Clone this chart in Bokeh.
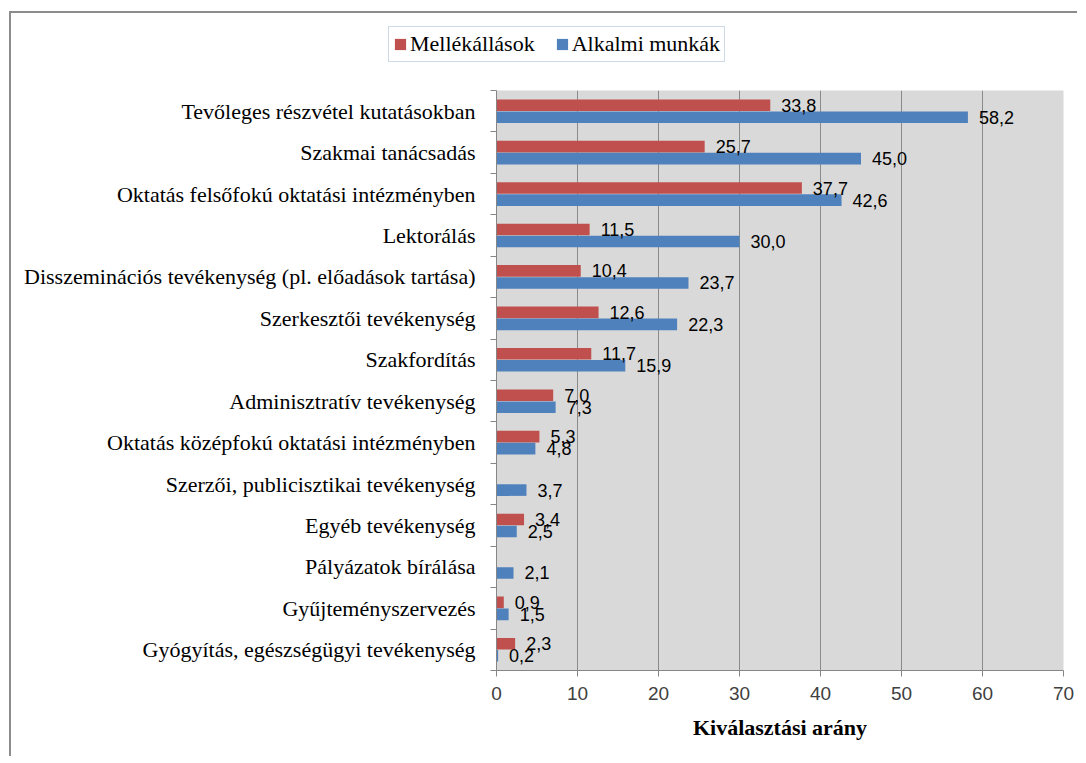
from bokeh.plotting import figure
from bokeh.layouts import column
from bokeh.models import ColumnDataSource, Range1d, FixedTicker, Legend, LegendItem, LabelSet
from bokeh.core.properties import value
from bokeh.embed import file_html
from bokeh.resources import INLINE

categories = [
    "Tevőleges részvétel kutatásokban",
    "Szakmai tanácsadás",
    "Oktatás felsőfokú oktatási intézményben",
    "Lektorálás",
    "Disszeminációs tevékenység (pl. előadások tartása)",
    "Szerkesztői tevékenység",
    "Szakfordítás",
    "Adminisztratív tevékenység",
    "Oktatás középfokú oktatási intézményben",
    "Szerzői, publicisztikai tevékenység",
    "Egyéb tevékenység",
    "Pályázatok bírálása",
    "Gyűjteményszervezés",
    "Gyógyítás, egészségügyi tevékenység",
]
mellekallasok = [33.8, 25.7, 37.7, 11.5, 10.4, 12.6, 11.7, 7.0, 5.3, None, 3.4, None, 0.9, 2.3]
alkalmi_munkak = [58.2, 45.0, 42.6, 30.0, 23.7, 22.3, 15.9, 7.3, 4.8, 3.7, 2.5, 2.1, 1.5, 0.2]
x_ticks = [0, 10, 20, 30, 40, 50, 60, 70]
series_names = ["Mellékállások", "Alkalmi munkák"]
x_title = "Kiválasztási arány"

RED = "#C0504D"
BLUE = "#4F81BD"
SERIF = "Liberation Serif"
SANS = "Liberation Sans"

n = len(categories)
centers = [i + 0.5 for i in range(n)]
dodge = 0.145
bar_h = 0.28


def fmt(v):
    return f"{v:.1f}".replace(".", ",")


def make_source(vals, shift):
    idx = [i for i, v in enumerate(vals) if v is not None]
    return ColumnDataSource(dict(
        y=[centers[i] + shift for i in idx],
        right=[vals[i] for i in idx],
        label=[fmt(vals[i]) for i in idx],
    ))


red_src = make_source(mellekallasok, -dodge)
blue_src = make_source(alkalmi_munkak, dodge)

# ---------------- legend strip ----------------
leg = figure(
    width=1066, height=72, x_range=Range1d(0, 70), y_range=Range1d(n, 0),
    x_axis_type=None, y_axis_type=None, min_border=0,
    min_border_left=0, min_border_right=0, min_border_top=0, min_border_bottom=0,
    output_backend="svg", toolbar_location=None, title=None,
)
leg.frame_align = False
leg.outline_line_color = None
leg.background_fill_color = "white"
leg.border_fill_color = "white"
lr = leg.hbar(y="y", right="right", left=0, height=bar_h, source=red_src,
              fill_color=RED, line_color=None, visible=False)
lb = leg.hbar(y="y", right="right", left=0, height=bar_h, source=blue_src,
              fill_color=BLUE, line_color=None, visible=False)
legend = Legend(
    items=[LegendItem(label=series_names[0], renderers=[lr]),
           LegendItem(label=series_names[1], renderers=[lb])],
    orientation="horizontal", location=(377, 23),
    label_text_font=SERIF, label_text_font_size="22px", label_text_color="black",
    label_height=20, glyph_width=14, glyph_height=14, label_standoff=3, spacing=20,
    padding=4, border_line_color="#9fb6d4", border_line_width=1,
    background_fill_color="white", background_fill_alpha=1.0, margin=0,
    inactive_fill_alpha=0.0,
)
leg.add_layout(legend, "center")

# ---------------- main chart ----------------
p = figure(
    width=1066, height=671,
    x_range=Range1d(0, 70), y_range=Range1d(n, 0),
    output_backend="svg", toolbar_location=None, title=None,
    min_border_left=485, min_border_right=14, min_border_top=5, min_border_bottom=86,
)
p.frame_align = False
p.background_fill_color = "#d9d9d9"
p.border_fill_color = "white"
p.outline_line_color = None

p.hbar(y="y", right="right", left=0, height=bar_h, source=red_src,
       fill_color=RED, line_color=None)
p.hbar(y="y", right="right", left=0, height=bar_h, source=blue_src,
       fill_color=BLUE, line_color=None)

for src in (red_src, blue_src):
    p.add_layout(LabelSet(x="right", y="y", text="label", source=src,
                          x_offset=11, text_baseline="middle", text_align="left",
                          text_font=value(SANS), text_font_size="18px",
                          text_color="black"))

# x axis
p.xaxis.ticker = FixedTicker(ticks=x_ticks)
p.xaxis.axis_label = x_title
p.xaxis.axis_label_text_font = SERIF
p.xaxis.axis_label_text_font_style = "bold"
p.xaxis.axis_label_text_font_size = "22px"
p.xaxis.axis_label_text_color = "black"
p.xaxis.axis_label_standoff = 12
p.xaxis.major_label_text_font = SANS
p.xaxis.major_label_text_font_size = "19px"
p.xaxis.major_label_text_color = "#404040"
p.xaxis.major_label_standoff = 10
p.xaxis.major_tick_out = 6
p.xaxis.major_tick_in = 0
p.xaxis.minor_tick_line_color = None
p.xaxis.axis_line_color = "#868686"
p.xaxis.major_tick_line_color = "#868686"

# y axis
p.yaxis.ticker = FixedTicker(ticks=centers, minor_ticks=list(range(n + 1)))
p.yaxis.major_label_overrides = {c: cat for c, cat in zip(centers, categories)}
p.yaxis.major_label_text_font = SERIF
p.yaxis.major_label_text_font_size = "22px"
p.yaxis.major_label_text_color = "black"
p.yaxis.major_label_standoff = 15
p.yaxis.major_tick_out = 0
p.yaxis.major_tick_in = 0
p.yaxis.minor_tick_out = 6
p.yaxis.minor_tick_in = 0
p.yaxis.minor_tick_line_color = "#868686"
p.yaxis.axis_line_color = "#868686"

p.xgrid.ticker = FixedTicker(ticks=x_ticks)
p.xgrid.grid_line_color = "#8a8a8a"
p.ygrid.grid_line_color = None

layout = column(leg, p, spacing=0,
                styles={"border-left": "2px solid #8c8c8c", "border-top": "2px solid #8c8c8c",
                        "margin-left": "9px", "margin-top": "11px"})

open("out.html", "w").write(file_html(layout, INLINE))
